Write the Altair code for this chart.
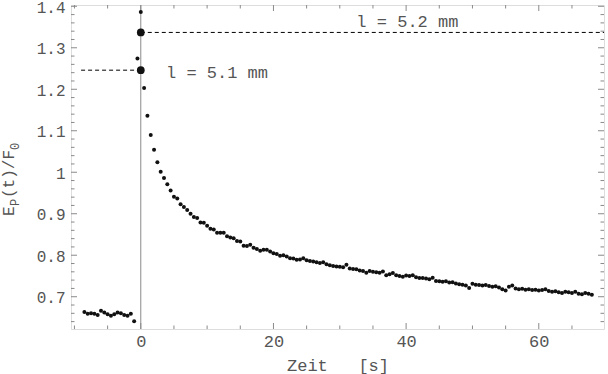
import altair as alt
import pandas as pd

# ---- data ----
before_jump = [0.663, 0.659, 0.660, 0.659, 0.656, 0.666, 0.662, 0.658, 0.654,
               0.658, 0.662, 0.660, 0.656, 0.654, 0.659]
jump = [0.641, 1.274, 1.386]
decay_fast = [1.203, 1.136, 1.090, 1.054, 1.024, 1.001, 0.986, 0.971, 0.956, 0.941,
              0.937, 0.923, 0.916, 0.909, 0.900, 0.892, 0.890, 0.879, 0.878, 0.871,
              0.864, 0.862, 0.854, 0.854, 0.854, 0.846, 0.843, 0.841, 0.834, 0.833,
              0.823, 0.822, 0.825, 0.818, 0.815, 0.811, 0.813, 0.813, 0.809, 0.805,
              0.803, 0.799, 0.800, 0.797, 0.793, 0.792, 0.789]
decay_slow = [0.790, 0.793, 0.788, 0.786, 0.785, 0.783, 0.781, 0.783, 0.778, 0.776,
              0.774, 0.773, 0.772, 0.771, 0.777, 0.768, 0.767, 0.766, 0.763, 0.762,
              0.758, 0.762, 0.760, 0.759, 0.758, 0.761, 0.752, 0.754, 0.757, 0.752,
              0.750, 0.748, 0.751, 0.750, 0.752, 0.747, 0.745, 0.745, 0.744, 0.742,
              0.746, 0.738, 0.737, 0.736, 0.737, 0.734, 0.735, 0.732, 0.730, 0.729,
              0.727, 0.721, 0.731, 0.729, 0.728, 0.727, 0.728, 0.726, 0.724, 0.725,
              0.722, 0.718, 0.715, 0.724, 0.727, 0.720, 0.718, 0.719, 0.717, 0.718,
              0.716, 0.717, 0.715, 0.716, 0.718, 0.714, 0.712, 0.713, 0.711, 0.709,
              0.712, 0.711, 0.709, 0.712, 0.707, 0.706, 0.709, 0.707, 0.705]
t_first = -8.5
t_step = 0.5

marked_t = [0.0, 0.0]
marked_v = [1.337, 1.246]
marker_labels = ["l = 5.2 mm", "l = 5.1 mm"]

x_major = [0, 20, 40, 60]
x_minor = [-10, -5, 5, 10, 15, 25, 30, 35, 45, 50, 55, 65]
y_major = [0.7, 0.8, 0.9, 1.0, 1.1, 1.2, 1.3, 1.4]
y_minor = [0.64, 0.66, 0.68, 0.72, 0.74, 0.76, 0.78, 0.82, 0.84, 0.86, 0.88,
           0.92, 0.94, 0.96, 0.98, 1.02, 1.04, 1.06, 1.08, 1.12, 1.14, 1.16,
           1.18, 1.22, 1.24, 1.26, 1.28, 1.32, 1.34, 1.36, 1.38]

# y-axis title pieces (main text / subscripts)
ytitle_parts = ["E", "P", "(t)/F", "0"]

x_domain = [-10.52, 69.83]
y_domain = [0.6222, 1.4031]

# ---- tables ----
values = before_jump + jump + decay_fast + decay_slow
times = [t_first + t_step * i for i in range(len(values))]
pts = pd.DataFrame({"t": times, "v": values})
big = pd.DataFrame({"t": marked_t, "v": marked_v})
dash = pd.DataFrame({"t": [0.0, -9.0], "t2": [x_domain[1], 0.0], "v": marked_v})
txt = pd.DataFrame({"t": [32.5, 3.8], "v": [1.351, 1.2266], "label": marker_labels})

W, H = 533, 324
PL, PT = 71, 5
FONT = "Liberation Mono"
FS = 17
TXT_COL = "#555555"
FRAME = "#8a8a8a"

xs = alt.Scale(domain=x_domain, nice=False, zero=False)
ys = alt.Scale(domain=y_domain, nice=False, zero=False)

xaxis = alt.Axis(values=x_major, format="d", ticks=False, domain=False, grid=False,
                 labelFont=FONT, labelFontSize=FS, labelColor=TXT_COL, labelPadding=4,
                 labelFlush=False, title="Zeit\u00a0\u00a0\u00a0[s]", titleFont=FONT,
                 titleFontSize=FS, titleFontWeight="normal", titleColor=TXT_COL,
                 titleBaseline="alphabetic", titleY=41)
yaxis = alt.Axis(values=y_major, ticks=False, domain=False, grid=False,
                 labelExpr="datum.value == 1 ? '1' : format(datum.value, '.1f')",
                 labelFont=FONT, labelFontSize=16, labelColor=TXT_COL, labelPadding=6,
                 labelOffset=1, labelFlush=False, title=None)

X = alt.X("t:Q", scale=xs, axis=xaxis)
Y = alt.Y("v:Q", scale=ys, axis=yaxis)

layers = []


def tick_layer(vals, side, length):
    d = pd.DataFrame({"t": vals, "v": vals})
    m = alt.Chart(d).mark_rule(color=FRAME, strokeWidth=1)
    if side == "bottom":
        return m.encode(x=X, y=alt.value(H), y2=alt.value(H - length))
    if side == "top":
        return m.encode(x=X, y=alt.value(0), y2=alt.value(length))
    if side == "left":
        return m.encode(y=Y, x=alt.value(0), x2=alt.value(length))
    return m.encode(y=Y, x=alt.value(W), x2=alt.value(W - length))


for side in ["bottom", "top"]:
    layers.append(tick_layer(x_major, side, 6))
    layers.append(tick_layer(x_minor, side, 3.5))
for side in ["left", "right"]:
    layers.append(tick_layer(y_major, side, 6))
    layers.append(tick_layer(y_minor, side, 3.5))

zero_line = alt.Chart(pd.DataFrame({"t": [0.0]})).mark_rule(
    color=FRAME, strokeWidth=1).encode(x=X)
dashed = alt.Chart(dash).mark_rule(color="black", strokeWidth=1, strokeDash=[4, 3]).encode(
    x=X, x2="t2:Q", y=Y)
dots = alt.Chart(pts).mark_circle(size=16, color="#111111", opacity=1).encode(x=X, y=Y)
bigdots = alt.Chart(big).mark_circle(size=60, color="#111111", opacity=1).encode(x=X, y=Y)
labels = alt.Chart(txt).mark_text(align="left", baseline="alphabetic", font=FONT,
                                  fontSize=FS, color=TXT_COL).encode(x=X, y=Y, text="label:N")

# rotated y title built from pieces so that the subscripts sit lower
one = pd.DataFrame({"k": [0]})
title_specs = [
    (ytitle_parts[0], 14, 216, 16),
    (ytitle_parts[1], 19, 206, 12),
    (ytitle_parts[2], 14, 198, 16),
    (ytitle_parts[3], 19, 150, 12),
]
title_layers = []
for s, bx, by, fs in title_specs:
    title_layers.append(
        alt.Chart(one).mark_text(text=s, angle=270, align="left", baseline="alphabetic",
                                 font=FONT, fontSize=fs, color=TXT_COL).encode(
            x=alt.value(bx - PL), y=alt.value(by - PT)))

chart = alt.layer(*layers, zero_line, dashed, dots, bigdots, labels, *title_layers).properties(
    width=W, height=H,
    autosize=alt.AutoSizeParams(type="none"),
    padding={"left": PL, "top": PT, "right": 4, "bottom": 45},
).configure_view(stroke=FRAME, strokeWidth=1).configure(background="white")

chart.save("out.html", embed_options={"renderer": "svg", "actions": False})
